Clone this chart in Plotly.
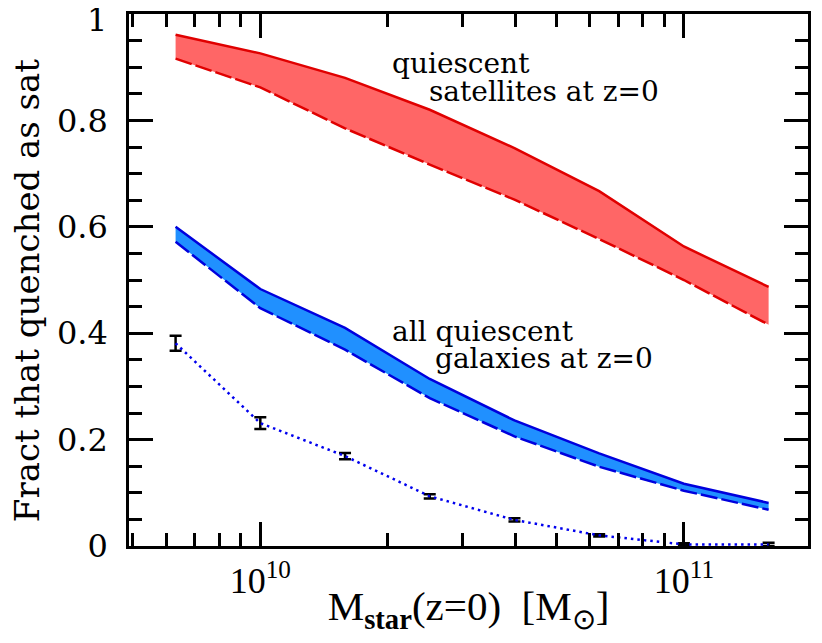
import plotly.graph_objects as go

# ---- data ----
log_mstar = [9.8, 10.0, 10.2, 10.4, 10.6, 10.8, 11.0, 11.2]
sat_upper = [0.961, 0.926, 0.880, 0.820, 0.748, 0.667, 0.563, 0.487]
sat_lower = [0.916, 0.862, 0.785, 0.717, 0.651, 0.577, 0.500, 0.416]
all_upper = [0.600, 0.483, 0.410, 0.314, 0.236, 0.174, 0.117, 0.081]
all_lower = [0.572, 0.447, 0.369, 0.278, 0.206, 0.149, 0.104, 0.068]
dot_vals = [0.381, 0.231, 0.169, 0.0935, 0.049, 0.020, 0.003, 0.003]
dot_errs = [0.014, 0.011, 0.006, 0.004, 0.003, 0.002, 0.002, 0.003]

y_major = [0, 0.2, 0.4, 0.6, 0.8, 1.0]
y_major_text = ["0", "0.2", "0.4", "0.6", "0.8", ""]   # "1" drawn below as annotation
y_top_label = "1"
x_major = [1e10, 1e11]
x_major_text = ["10<sup>10</sup>", "10<sup>11</sup>"]

mstar = [10 ** v for v in log_mstar]

RED_FILL = "#ff6666"
RED_LINE = "#e00000"
BLUE_FILL = "#2090ff"
BLUE_LINE = "#0000dd"

fig = go.Figure()

def band(lower, upper, fill, line):
    fig.add_trace(go.Scatter(x=mstar, y=lower, mode="lines",
                             line=dict(width=0, color=line), showlegend=False,
                             hoverinfo="skip"))
    fig.add_trace(go.Scatter(x=mstar, y=upper, mode="lines", fill="tonexty",
                             fillcolor=fill, line=dict(width=2.5, color=line),
                             showlegend=False))
    fig.add_trace(go.Scatter(x=mstar, y=lower, mode="lines",
                             line=dict(width=2.5, color=line, dash="17px,4px"),
                             showlegend=False))

band(sat_lower, sat_upper, RED_FILL, RED_LINE)
band(all_lower, all_upper, BLUE_FILL, BLUE_LINE)

fig.add_trace(go.Scatter(
    x=mstar, y=dot_vals, mode="lines",
    line=dict(width=2.5, color="#0000ee", dash="2.5px,4px"),
    error_y=dict(type="data", array=dot_errs, visible=True,
                 color="black", thickness=2.5, width=6),
    showlegend=False))

serif = "DejaVu Serif"
tfont = dict(family=serif, size=28, color="black")
fig.add_annotation(x=10.473, y=0.907, xref="x", yref="y", text="quiescent",
                   showarrow=False, font=tfont)
fig.add_annotation(x=10.67, y=0.855, xref="x", yref="y", text="satellites at z=0",
                   showarrow=False, font=tfont)
fig.add_annotation(x=10.525, y=0.404, xref="x", yref="y", text="all quiescent",
                   showarrow=False, font=tfont)
fig.add_annotation(x=10.67, y=0.353, xref="x", yref="y", text="galaxies at z=0",
                   showarrow=False, font=tfont)

# top y tick label and y-axis title as annotations (placed like the reference)
fig.add_annotation(x=0, y=1, xref="paper", yref="paper", text=y_top_label,
                   showarrow=False, xanchor="right", yanchor="middle",
                   xshift=-20, yshift=-6,
                   font=dict(family=serif, size=32, color="black"))
fig.add_annotation(x=0, y=0.479, xref="paper", yref="paper",
                   text="Fract that quenched as sat", textangle=-90,
                   showarrow=False, xanchor="center", yanchor="middle",
                   xshift=-102,
                   font=dict(family=serif, size=34, color="black"))

x_minor = [m * 10 ** e for e in (9, 10, 11) for m in range(2, 10)]
y_minor = [i * 0.05 for i in range(21)]

fig.update_xaxes(
    type="log", range=[9.69, 11.293], automargin=False,
    showline=True, linewidth=2.5, linecolor="black", mirror="ticks",
    showgrid=False, zeroline=False,
    tickmode="array", tickvals=x_major, ticktext=x_major_text,
    ticks="inside", ticklen=24, tickwidth=2.5, tickcolor="black",
    minor=dict(tickmode="array", tickvals=x_minor, ticks="inside", ticklen=13,
               tickwidth=2.5, tickcolor="black", showgrid=False),
    tickfont=dict(family="Liberation Serif", size=36, color="black"),
    ticklabelstandoff=1, ticklabeloverflow="allow",
    title=dict(text="M<sub><b>star</b></sub>(z=0)  [M<sub>⊙</sub>]",
               font=dict(family="Liberation Serif", size=41, color="black"),
               standoff=18),
)
fig.update_yaxes(
    range=[0, 1], automargin=False,
    showline=True, linewidth=2.5, linecolor="black", mirror="ticks",
    showgrid=False, zeroline=False,
    tickmode="array", tickvals=y_major, ticktext=y_major_text,
    ticks="inside", ticklen=24, tickwidth=2.5, tickcolor="black",
    minor=dict(tickmode="array", tickvals=y_minor, ticks="inside", ticklen=13,
               tickwidth=2.5, tickcolor="black", showgrid=False),
    tickfont=dict(family=serif, size=32, color="black"),
    ticklabelstandoff=12, ticklabeloverflow="allow",
)

# page body adds an 8px offset; size the figure so the page is 822x643
fig.update_layout(
    width=806, height=627,
    margin=dict(l=121, r=6, t=6, b=89),
    paper_bgcolor="white", plot_bgcolor="white",
    showlegend=False,
)

fig.write_html("out.html")
